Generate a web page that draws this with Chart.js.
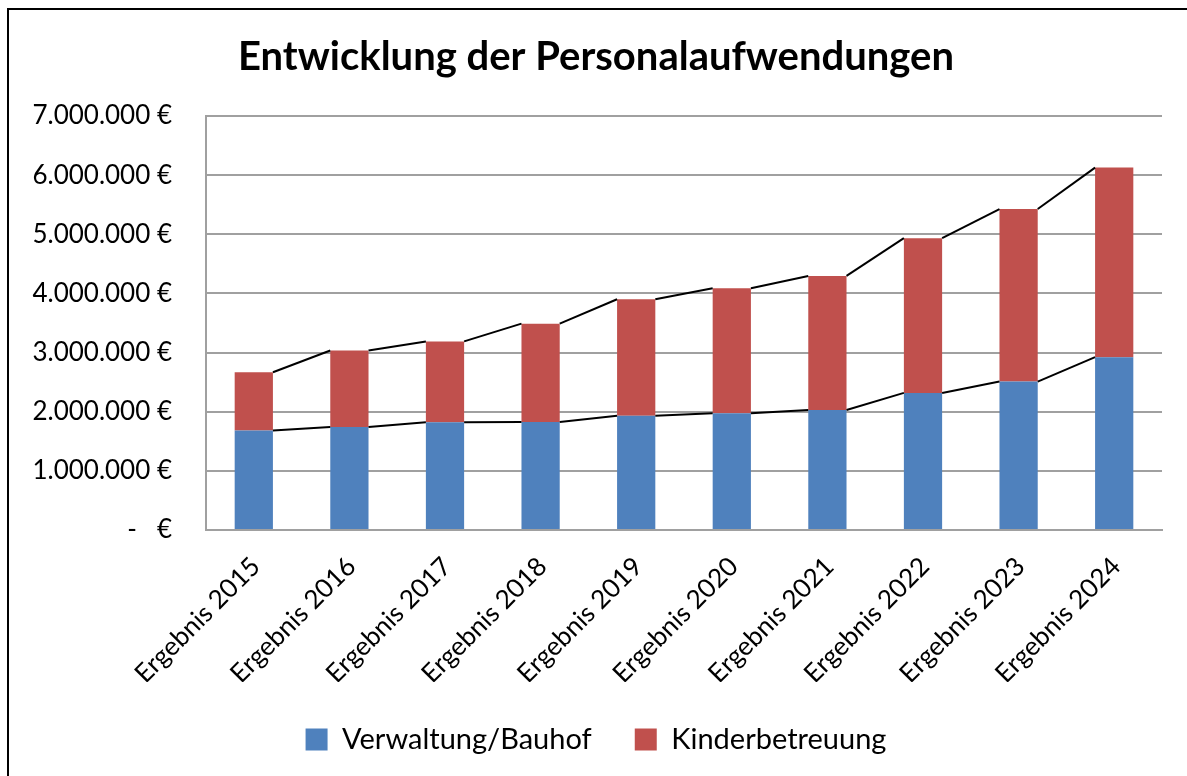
<!DOCTYPE html>
<html>
<head>
<meta charset="utf-8">
<script src="https://cdn.jsdelivr.net/npm/chart.js@4.4.1/dist/chart.umd.min.js"></script>
<style>
  html, body { margin: 0; padding: 0; background: #fff; overflow: hidden; }
  #frame { position: absolute; left: 7px; top: 8px; width: 1300px; height: 900px; border: 2px solid #000; }
  #wrap { position: absolute; left: 0; top: 0; width: 1187px; height: 776px; }
</style>
</head>
<body>
<div id="frame"></div>
<div id="wrap"><canvas id="barChart"></canvas></div>
<script>
// values (EUR)
var categories = ['Ergebnis 2015', 'Ergebnis 2016', 'Ergebnis 2017', 'Ergebnis 2018', 'Ergebnis 2019',
                  'Ergebnis 2020', 'Ergebnis 2021', 'Ergebnis 2022', 'Ergebnis 2023', 'Ergebnis 2024'];
var verwaltung = [1684000, 1742000, 1820000, 1826000, 1933000, 1973000, 2030000, 2318000, 2510000, 2923000];
var kinder = [984000, 1294000, 1369000, 1663000, 1968000, 2115000, 2266000, 2617000, 2917000, 3205000];
var yTicks = [0, 1000000, 2000000, 3000000, 4000000, 5000000, 6000000, 7000000];

var FONT = 'Lato';
var GRID = '#a0a0a0';

function euro(v) {
    if (v === 0) return '-   €';
    return String(v).replace(/\B(?=(\d{3})+(?!\d))/g, '.') + ' €';
}

// excel style series lines: right edge of one bar top to left edge of next bar top
var seriesLines = {
    id: 'seriesLines',
    afterDatasetsDraw: function (chart) {
        var ctx = chart.ctx;
        ctx.save();
        ctx.strokeStyle = '#000';
        ctx.lineWidth = 2;
        chart.data.datasets.forEach(function (ds, d) {
            var bars = chart.getDatasetMeta(d).data;
            for (var i = 0; i < bars.length - 1; i++) {
                var a = bars[i], b = bars[i + 1];
                ctx.beginPath();
                ctx.moveTo(a.x + a.width / 2, a.y);
                ctx.lineTo(b.x - b.width / 2, b.y);
                ctx.stroke();
            }
        });
        ctx.restore();
    }
};

var ctxB = document.getElementById('barChart').getContext('2d');
var myBarChart = new Chart(ctxB, {
    type: 'bar',
    data: {
        labels: categories,
        datasets: [{
            label: 'Verwaltung/Bauhof',
            data: verwaltung,
            backgroundColor: '#4f81bd'
        }, {
            label: 'Kinderbetreuung',
            data: kinder,
            backgroundColor: '#c0504d'
        }]
    },
    options: {
        responsive: true,
        maintainAspectRatio: false,
        animation: false,
        layout: { padding: { left: 30, right: 25, top: 10, bottom: 12 } },
        datasets: { bar: { categoryPercentage: 1, barPercentage: 0.4 } },
        scales: {
            x: {
                stacked: true,
                grid: { display: false },
                border: { display: true, color: GRID, width: 2 },
                ticks: {
                    color: '#000',
                    font: { family: FONT, size: 26 },
                    minRotation: 45,
                    maxRotation: 45,
                    padding: 13,
                    labelOffset: 2
                },
                afterFit: function (scale) { scale.height = 152; }
            },
            y: {
                stacked: true,
                min: 0,
                max: 7000000,
                afterBuildTicks: function (scale) {
                    scale.ticks = yTicks.map(function (v) { return { value: v }; });
                },
                grid: { color: GRID, lineWidth: 2, drawTicks: false },
                border: { display: true, color: GRID, width: 2 },
                ticks: {
                    color: '#000',
                    font: { family: FONT, size: 26 },
                    padding: 34,
                    callback: function (v) { return euro(v); }
                },
                afterFit: function (scale) { scale.width = 176; }
            }
        },
        plugins: {
            title: {
                display: true,
                text: 'Entwicklung der Personalaufwendungen',
                color: '#000',
                font: { family: FONT, size: 40, weight: 'bold', lineHeight: 1.2 },
                padding: { top: 23, bottom: 35 }
            },
            legend: {
                position: 'bottom',
                labels: {
                    color: '#000',
                    font: { family: FONT, size: 29 },
                    boxWidth: 22,
                    boxHeight: 22,
                    padding: 43
                }
            },
            tooltip: { enabled: false }
        }
    },
    plugins: [seriesLines]
});
</script>
</body>
</html>
